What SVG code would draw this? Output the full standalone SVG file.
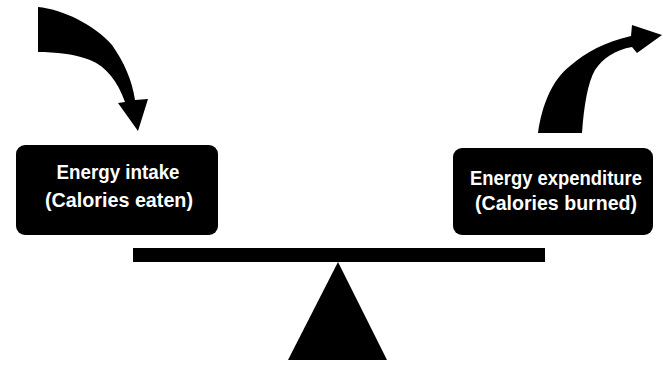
<svg xmlns="http://www.w3.org/2000/svg" width="663" height="369" viewBox="0 0 663 369">
<style>
.box{fill:#000;}
.lbl{fill:#fff;font-family:"Liberation Sans Narrow","Liberation Sans",Arial,sans-serif;font-weight:bold;text-anchor:middle;}
.shape{fill:#000;}
</style>
<rect width="663" height="369" fill="#fff"/>
<g id="connectors">
<path class="shape" d="M38,7 C62,9 95,25 112,45 C124,62 132,80 135,100 L148,99 L138,131 L118,103 L125,102 C118,82 106,66 90,60 C75,54 55,52 38,52 Z"/>
<path class="shape" d="M538,133 C542,105 552,80 570,66 C586,52 605,42 631,36 L632,25 L662,35 L637,53 L632,47 C615,50 603,58 595,70 C588,82 584,105 582,133 Z"/>
</g>
<g id="intake">
<rect class="box" x="16" y="145" width="202" height="90" rx="9"/>
<text class="lbl" x="118" y="179" font-size="20" textLength="123" lengthAdjust="spacingAndGlyphs">Energy intake</text>
<text class="lbl" x="119" y="207" font-size="20" textLength="148" lengthAdjust="spacingAndGlyphs">(Calories eaten)</text>
</g>
<g id="expenditure">
<rect class="box" x="453" y="148" width="200" height="87" rx="9"/>
<text class="lbl" x="556" y="185" font-size="19.5" textLength="172" lengthAdjust="spacingAndGlyphs">Energy expenditure</text>
<text class="lbl" x="556" y="210" font-size="19.5" textLength="162" lengthAdjust="spacingAndGlyphs">(Calories burned)</text>
</g>
<g id="scale">
<rect class="shape" x="133" y="248" width="412" height="14"/>
<polygon class="shape" points="338,262 387,360 288,360"/>
</g>
</svg>
